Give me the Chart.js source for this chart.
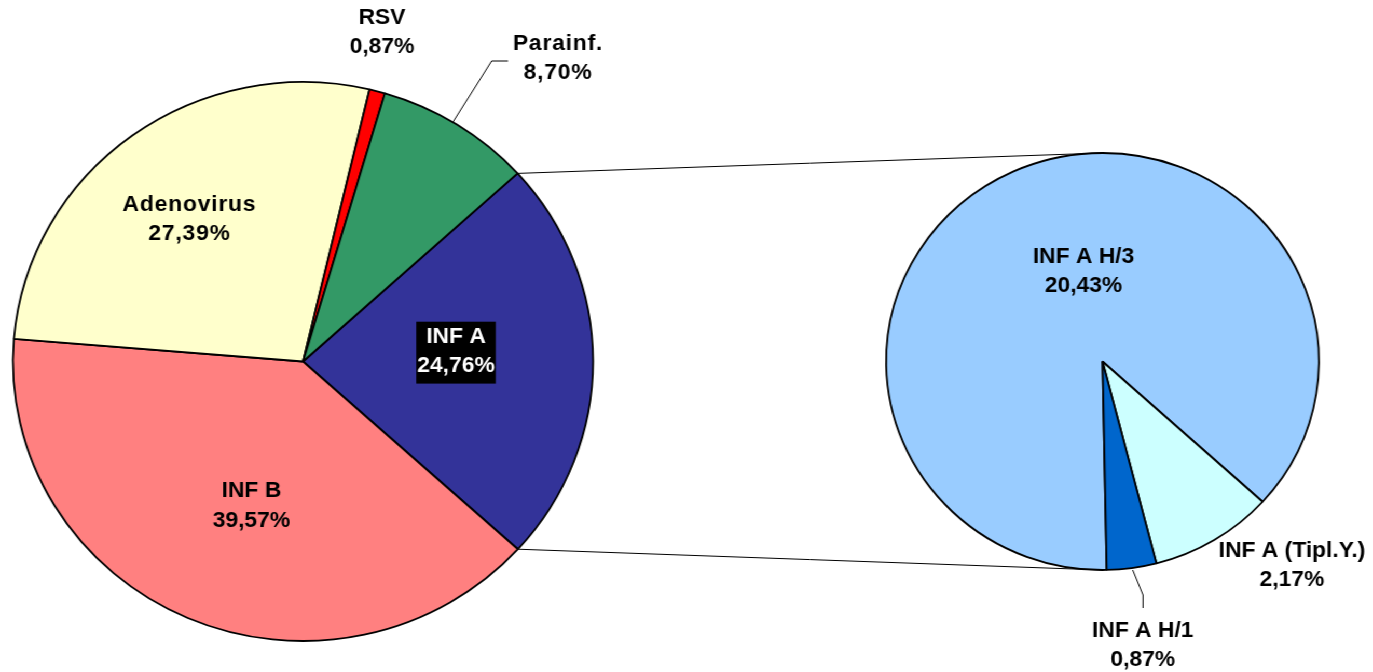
<!DOCTYPE html>
<html><head><meta charset="utf-8">
<script src="https://cdn.jsdelivr.net/npm/chart.js@4.4.0/dist/chart.umd.min.js"></script>
<style>
html,body{margin:0;padding:0;background:#fff;overflow:hidden}
#wrap{position:relative;width:1323px;height:672px;transform:scaleX(1.0378);transform-origin:0 0}
#wrap canvas{position:absolute;left:0;top:0}
</style></head><body>
<div id="wrap"><canvas id="c1" width="1323" height="672"></canvas><canvas id="c2" width="1323" height="672"></canvas></div>
<script>
// ---- data ----
const mainCategories = ['INF A', 'INF B', 'Adenovirus', 'RSV', 'Parainf.'];
// INF A slice drawn as the sum of its breakdown (20,43 + 2,17 + 0,87); its label reads 24,76% in the original
const mainValues = [23.47, 39.57, 27.39, 0.87, 8.70];
const mainLabels = ['24,76%', '39,57%', '27,39%', '0,87%', '8,70%'];
const subCategories = ['INF A H/3', 'INF A (Tipl.Y.)', 'INF A H/1'];
const subValues = [20.43, 2.17, 0.87];
const subLabels = ['20,43%', '2,17%', '0,87%'];

// ---- styling / layout ----
const mainColors = ['#333399', '#FF8080', '#FFFFCC', '#FF0000', '#339966'];
const subColors = ['#99CCFF', '#CCFFFF', '#0066CC'];
const W = 1323, H = 672, SX = 1373 / W;
const FONT = 'bold 22px "Liberation Sans", Arial, sans-serif';
const GAP = 29.3;
// label anchors in picture pixels: centre x, first baseline
const mainLabelPos = [
  {x: 456, y: 342.7, box: true},
  {x: 251.5, y: 497.3},
  {x: 189.5, y: 210.7, ls: 0.8},
  {x: 382, y: 24},
  {x: 558, y: 50, ls: 0.8}
];
const subLabelPos = [
  {x: 1083.5, y: 262.7},
  {x: 1292, y: 557},
  {x: 1142.7, y: 636.7}
];

function drawLabels(ctx, cats, vals, pos) {
  ctx.save();
  ctx.font = FONT;
  ctx.textAlign = 'center';
  ctx.textBaseline = 'alphabetic';
  cats.forEach((c, i) => {
    const p = pos[i];
    const x = p.x / SX;
    ctx.letterSpacing = (p.ls || 0) + 'px';
    if (p.box) {
      const w = Math.max(ctx.measureText(c).width, ctx.measureText(vals[i]).width) + 2;
      ctx.fillStyle = '#000';
      ctx.fillRect(x - w / 2, p.y - 21, w, 21 + GAP + 11.6);
      ctx.fillStyle = '#fff';
    } else {
      ctx.fillStyle = '#000';
    }
    ctx.fillText(c, x, p.y);
    ctx.fillText(vals[i], x, p.y + GAP);
  });
  ctx.restore();
}

function line(ctx, pts) {
  ctx.beginPath();
  pts.forEach((p, i) => i ? ctx.lineTo(p[0], p[1]) : ctx.moveTo(p[0], p[1]));
  ctx.stroke();
}

const mainChart = new Chart(document.getElementById('c1'), {
  type: 'pie',
  data: {labels: mainCategories, datasets: [{data: mainValues, backgroundColor: mainColors, borderColor: '#000', borderWidth: 1.8}]},
  options: {
    responsive: false, animation: false, events: [],
    radius: 279.5, rotation: 47.7,
    layout: {padding: {left: 0, right: W - 584, top: 51, bottom: 0}},
    plugins: {legend: {display: false}, tooltip: {enabled: false}}
  },
  plugins: [{id: 'mainLabels', afterDraw(chart) { drawLabels(chart.ctx, mainCategories, mainLabels, mainLabelPos); }}]
});

const subChart = new Chart(document.getElementById('c2'), {
  type: 'pie',
  data: {labels: subCategories, datasets: [{data: subValues, backgroundColor: subColors, borderColor: '#000', borderWidth: 1.8}]},
  options: {
    responsive: false, animation: false, events: [],
    radius: 208.5, rotation: 178.9,
    layout: {padding: {left: 2 * (1102.5 / SX) - W, right: 0, top: 51, bottom: 0}},
    plugins: {legend: {display: false}, tooltip: {enabled: false}}
  },
  plugins: [{id: 'subLabels', afterDraw(chart) {
    const ctx = chart.ctx;
    const a = mainChart.getDatasetMeta(0).data[0];
    const b = chart.getDatasetMeta(0).data[0];
    ctx.save();
    ctx.strokeStyle = '#000';
    ctx.lineWidth = 1;
    const r = a.outerRadius;
    line(ctx, [[a.x + r * Math.cos(a.startAngle), a.y + r * Math.sin(a.startAngle)], [b.x, b.y - b.outerRadius]]);
    line(ctx, [[a.x + r * Math.cos(a.endAngle), a.y + r * Math.sin(a.endAngle)], [b.x, b.y + b.outerRadius]]);
    // leader lines
    line(ctx, [[508 / SX, 61], [491.7 / SX, 61], [453 / SX, 122]]);
    line(ctx, [[1132.7 / SX, 570], [1143 / SX, 595], [1143 / SX, 608]]);
    ctx.restore();
    drawLabels(ctx, subCategories, subLabels, subLabelPos);
  }}]
});
</script>
</body></html>
